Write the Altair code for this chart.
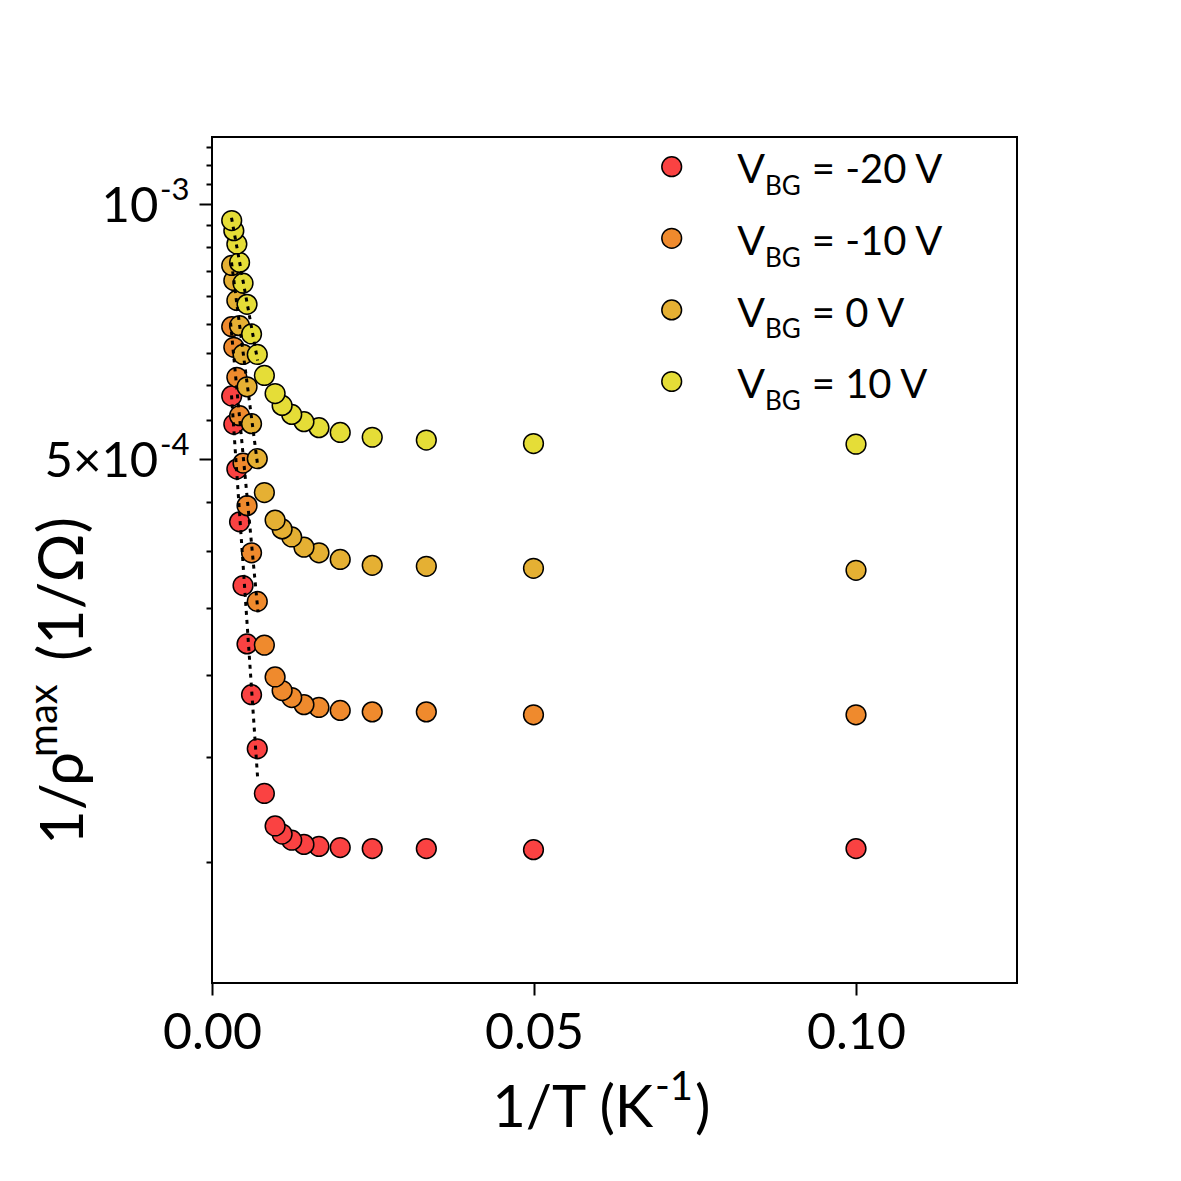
import altair as alt
import pandas as pd

# ---------------- data ----------------
series_names = ["V_BG = -20 V", "V_BG = -10 V", "V_BG = 0 V", "V_BG = 10 V"]
legend_values = ["= -20 V", "= -10 V", "= 0 V", "= 10 V"]
series_colors = ["#FA4242", "#EF8A2D", "#E5B033", "#E5DD37"]

# 1/T (K^-1)
inv_T = [0.00306, 0.00339, 0.00386, 0.00428, 0.00482, 0.00544, 0.00614, 0.00703,
         0.00813, 0.0098, 0.01089, 0.01238, 0.01428, 0.01661, 0.01991, 0.02488,
         0.03328, 0.04992, 0.1]

# 1/rho_max (1/Ohm)
y_m20 = [5.93e-4, 5.49e-4, 4.86e-4, 4.21e-4, 3.54e-4, 3.02e-4, 2.63e-4, 2.27e-4,
         2.01e-4, 1.84e-4, 1.80e-4, 1.77e-4, 1.75e-4, 1.74e-4, 1.735e-4, 1.73e-4,
         1.73e-4, 1.725e-4, 1.73e-4]
y_m10 = [7.16e-4, 6.77e-4, 6.24e-4, 5.62e-4, 4.94e-4, 4.40e-4, 3.87e-4, 3.39e-4,
         3.01e-4, 2.76e-4, 2.66e-4, 2.61e-4, 2.56e-4, 2.54e-4, 2.52e-4, 2.51e-4,
         2.51e-4, 2.49e-4, 2.49e-4]
y_0 = [8.46e-4, 8.12e-4, 7.69e-4, 7.18e-4, 6.64e-4, 6.08e-4, 5.50e-4, 5.00e-4,
       4.56e-4, 4.23e-4, 4.13e-4, 4.04e-4, 3.93e-4, 3.87e-4, 3.80e-4, 3.74e-4,
       3.73e-4, 3.71e-4, 3.69e-4]
y_p10 = [9.56e-4, 9.30e-4, 8.97e-4, 8.53e-4, 8.06e-4, 7.61e-4, 7.02e-4, 6.64e-4,
         6.27e-4, 5.97e-4, 5.78e-4, 5.64e-4, 5.53e-4, 5.44e-4, 5.37e-4, 5.30e-4,
         5.26e-4, 5.21e-4, 5.20e-4]

# dotted fit lines (start / end of each line)
fit_x_start = [0.00303, 0.00288, 0.00303, 0.00303]
fit_x_end = [0.00708, 0.00715, 0.00715, 0.00708]
fit_y_start = [5.94e-4, 7.24e-4, 8.53e-4, 9.63e-4]
fit_y_end = [2.10e-4, 3.29e-4, 4.87e-4, 6.53e-4]

# axes
x_ticks = [0.0, 0.05, 0.1]
y_major_ticks = [5e-4, 1e-3]
y_major_base = ["5×10", "10"]
y_major_exp = ["-4", "-3"]
y_minor_ticks = [1.667e-4, 2.222e-4, 2.778e-4, 3.333e-4, 3.889e-4, 4.444e-4,
                 5.556e-4, 6.111e-4, 6.667e-4, 7.222e-4, 7.778e-4, 8.333e-4,
                 8.889e-4, 9.444e-4, 1.0556e-3, 1.1111e-3, 1.1667e-3]

# ---------------- tables ----------------
rows = []
for name, ys in zip(series_names, [y_m20, y_m10, y_0, y_p10]):
    pairs = list(zip(inv_T, ys))
    for xv, yv in reversed(pairs):
        rows.append({"x": xv, "y": yv, "series": name})
pts = pd.DataFrame(rows)

fit_rows = []
for name, xs, xe, ys_, ye in zip(series_names, fit_x_start, fit_x_end, fit_y_start, fit_y_end):
    fit_rows.append({"x": xs, "y": ys_, "series": name})
    fit_rows.append({"x": xe, "y": ye, "series": name})
fits = pd.DataFrame(fit_rows)

ylab = pd.DataFrame({"y": y_major_ticks, "base": y_major_base, "exp": y_major_exp})

FONT = "Lato"
W, H = 805, 846

xscale = alt.Scale(domain=[0, 0.125], nice=False, zero=False)
yscale = alt.Scale(type="log", domain=[1.2e-4, 1.2e-3], nice=False)

major_test = "datum.value === 0.001 || datum.value === 0.0005"
xaxis = alt.Axis(values=x_ticks, format=".2f", title=None, grid=False, domain=False,
                 tickColor="black", tickWidth=2, tickSize=12, labelFont=FONT,
                 labelFontSize=50, labelColor="black", labelBaseline="alphabetic",
                 labelPadding=53, labelFlush=False, labelOverlap=False)
yaxis = alt.Axis(values=sorted(y_major_ticks + y_minor_ticks), labels=False, title=None,
                 grid=False, domain=False, tickColor="black", tickWidth=2,
                 tickSize={"condition": {"test": major_test, "value": 13}, "value": 6})

X = alt.X("x:Q", scale=xscale, axis=xaxis)
Y = alt.Y("y:Q", scale=yscale, axis=yaxis)

points = alt.Chart(pts).mark_circle(size=390, opacity=1, stroke="black", strokeWidth=1.5).encode(
    x=X, y=Y,
    color=alt.Color("series:N", scale=alt.Scale(domain=series_names, range=series_colors),
                    legend=None),
)

lines = alt.Chart(fits).mark_line(color="black", strokeDash=[4, 5], strokeWidth=3).encode(
    x=X, y=Y, detail="series:N",
)

ylab_base = alt.Chart(ylab).mark_text(align="right", baseline="alphabetic", font=FONT,
                                      fontSize=49, dy=18, color="black").encode(
    y=Y, x=alt.value(-53.7), text="base:N")
ylab_exp = alt.Chart(ylab).mark_text(align="left", baseline="alphabetic", font=FONT,
                                     fontSize=31, dy=-4, color="black").encode(
    y=Y, x=alt.value(-52), text="exp:N")


def label(txt, x, y, size, align="left", angle=None):
    kw = dict(align=align, baseline="alphabetic", font=FONT, fontSize=size, color="black")
    if angle is not None:
        kw["angle"] = angle
    return alt.Chart(pd.DataFrame({"t": [txt]})).mark_text(**kw).encode(
        x=alt.value(x), y=alt.value(y), text="t:N")


annot = [
    # x title: 1/T (K^-1)
    label("1/T (K", 441.3, 989.7, 58, align="right"),
    label("-1", 443, 963, 40),
    label(")", 483, 989.7, 58),
    # y title: 1/rho^max (1/Omega)
    label("1/ρ", -128.7, 708, 60, angle=270),
    label("max", -155.3, 620, 40, angle=270),
    label("(1/Ω)", -128.7, 524, 61, angle=270),
]

legend_layers = []
for i, (color, val) in enumerate(zip(series_colors, legend_values)):
    yc = 29.7 + 71.6 * i
    yb = 46.3 + 71.6 * i
    legend_layers.append(
        alt.Chart(pd.DataFrame({"t": [val]})).mark_circle(
            size=390, opacity=1, stroke="black", strokeWidth=1.5, fill=color).encode(
            x=alt.value(459.7), y=alt.value(yc)))
    legend_layers.append(label("V", 525.3, yb, 41))
    legend_layers.append(label("BG", 553, yb + 11.7, 26))
    legend_layers.append(label(val, 599.7, yb, 40))

chart = alt.layer(points, lines, ylab_base, ylab_exp, *annot, *legend_layers).properties(
    width=W, height=H, autosize="none",
    padding={"left": 204, "top": 129, "right": 150, "bottom": 180},
    background="white",
).configure_view(stroke="black", strokeWidth=2)

chart.save("out.html", embed_options={"renderer": "svg", "actions": False})
